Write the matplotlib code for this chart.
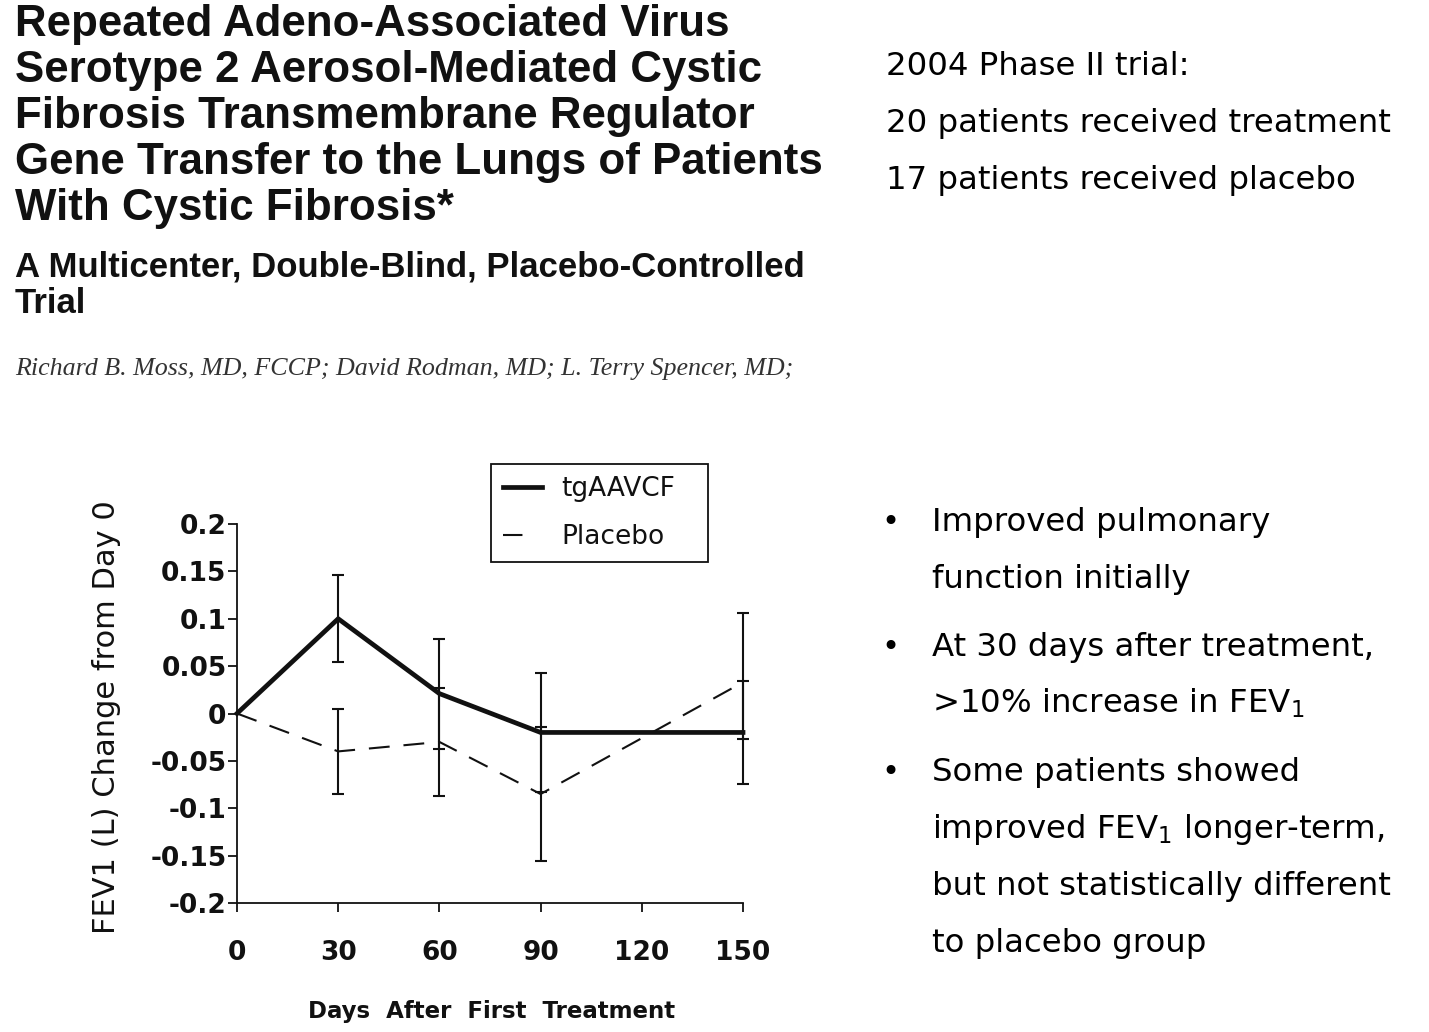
import matplotlib
matplotlib.use("Agg")
import matplotlib.pyplot as plt
from matplotlib.lines import Line2D

# ---------------------------------------------------------------
# Data (FEV1 change from day 0, litres)
# ---------------------------------------------------------------
days = [0, 30, 60, 90, 150]
tg_mean = [0.0, 0.100, 0.021, -0.020, -0.020]
tg_err = [0.0, 0.046, 0.058, 0.063, 0.054]
pl_mean = [0.0, -0.040, -0.030, -0.085, 0.033]
pl_err_low = [0.0, 0.045, 0.057, 0.071, 0.060]
pl_err_high = [0.0, 0.045, 0.057, 0.071, 0.073]

x_ticks = [0, 30, 60, 90, 120, 150]
y_ticks = [0.2, 0.15, 0.1, 0.05, 0, -0.05, -0.1, -0.15, -0.2]
y_tick_labels = ["0.2", "0.15", "0.1", "0.05", "0", "-0.05", "-0.1", "-0.15", "-0.2"]
series_names = ["tgAAVCF", "Placebo"]

title_lines = [
    "Repeated Adeno-Associated Virus",
    "Serotype 2 Aerosol-Mediated Cystic",
    "Fibrosis Transmembrane Regulator",
    "Gene Transfer to the Lungs of Patients",
    "With Cystic Fibrosis*",
]
subtitle_lines = ["A Multicenter, Double-Blind, Placebo-Controlled", "Trial"]
authors = "Richard B. Moss, MD, FCCP; David Rodman, MD; L. Terry Spencer, MD;"
trial_lines = [
    "2004 Phase II trial:",
    "20 patients received treatment",
    "17 patients received placebo",
]
bullets = [
    ["Improved pulmonary", "function initially"],
    ["At 30 days after treatment,", r">10% increase in FEV$_1$"],
    ["Some patients showed", r"improved FEV$_1$ longer-term,",
     "but not statistically different", "to placebo group"],
]

# ---------------------------------------------------------------
# Figure in pixel units
# ---------------------------------------------------------------
W, H = 1429, 1032
plt.rcParams['lines.scale_dashes'] = False
fig = plt.figure(figsize=(W / 100, H / 100), dpi=100)
ink = '#111111'


def fx(px):
    return px / W


def fy(py):
    return 1 - py / H


# --- left text block (paper header) ---
for i, line in enumerate(title_lines):
    fig.text(fx(15), fy(36 + 46 * i), line, fontsize=31.6, fontweight='bold',
             family='Liberation Sans', color=ink, va='baseline')
for i, line in enumerate(subtitle_lines):
    fig.text(fx(15), fy(277 + 36 * i), line, fontsize=25, fontweight='bold',
             family='Liberation Sans', color=ink, va='baseline')
fig.text(fx(15), fy(375), authors, fontsize=18.7, style='italic',
         family='Liberation Serif', color='#333333', va='baseline')

# --- right text block ---
for i, line in enumerate(trial_lines):
    fig.text(fx(886), fy(75 + 57 * i), line, fontsize=23.3,
             family='DejaVu Sans', color='black', va='baseline')

base = 531
for group in bullets:
    fig.text(fx(890), fy(base), "\u2022", fontsize=22, family='DejaVu Sans',
             ha='center', va='baseline')
    for j, line in enumerate(group):
        fig.text(fx(932), fy(base + 57 * j), line, fontsize=23.3,
                 family='DejaVu Sans', color='black', va='baseline')
    base += 57 * (len(group) - 1) + 68

# --- chart ---
ax = fig.add_axes([fx(237), fy(903), (743 - 237) / W, (903 - 524) / H])

ax.plot(days, tg_mean, color=ink, lw=3.4, solid_joinstyle='miter', clip_on=False)
ax.plot(days, pl_mean, color=ink, lw=1.5, dashes=(15, 10), clip_on=False)

eb1 = ax.errorbar(days, tg_mean, yerr=tg_err, fmt='none', ecolor=ink,
                  elinewidth=1.5, capsize=4.5, capthick=1.5, errorevery=(1, 1))
eb2 = ax.errorbar(days, pl_mean, yerr=[pl_err_low, pl_err_high], fmt='none',
                  ecolor=ink, elinewidth=1.5, capsize=4.5, capthick=1.5,
                  errorevery=(1, 1))
for eb in (eb1, eb2):
    for child in eb.get_children():
        child.set_clip_on(False)

ax.set_xlim(0, 150)
ax.set_ylim(-0.2, 0.2)
ax.set_xticks(x_ticks)
ax.set_yticks(y_ticks)
ax.set_yticklabels(y_tick_labels)
for s in ('top', 'right'):
    ax.spines[s].set_visible(False)
for s in ('left', 'bottom'):
    ax.spines[s].set_linewidth(1.3)
    ax.spines[s].set_color(ink)
ax.tick_params(axis='both', direction='out', length=6.5, width=1.3, color=ink,
               labelsize=19, labelcolor=ink)
ax.tick_params(axis='x', pad=20)
ax.tick_params(axis='y', pad=1)
for lab in ax.get_xticklabels() + ax.get_yticklabels():
    lab.set_fontweight('bold')

ax.set_xlabel("Days  After  First  Treatment", fontsize=16.5, fontweight='bold',
              color=ink)
ax.xaxis.set_label_coords(0.504, -0.256)
ax.set_ylabel("FEV1 (L) Change from Day 0", fontsize=22, color=ink)
ax.yaxis.set_label_coords(-0.229, 0.49)

handles = [Line2D([], [], color=ink, lw=3.4),
           Line2D([], [], color=ink, lw=1.5, dashes=(14, 40))]
leg = fig.legend(handles, series_names, loc='upper left', mode='expand',
                 bbox_to_anchor=(fx(491), fy(561), 217 / W, 97 / H),
                 borderaxespad=0, fontsize=19, frameon=True, fancybox=False,
                 framealpha=1, handlelength=1.5, handletextpad=0.7,
                 borderpad=0.45, labelspacing=0.85)
leg.get_frame().set_edgecolor(ink)
leg.get_frame().set_linewidth(1.3)
for t in leg.get_texts():
    t.set_color(ink)

fig.savefig("out.png", dpi=100)
